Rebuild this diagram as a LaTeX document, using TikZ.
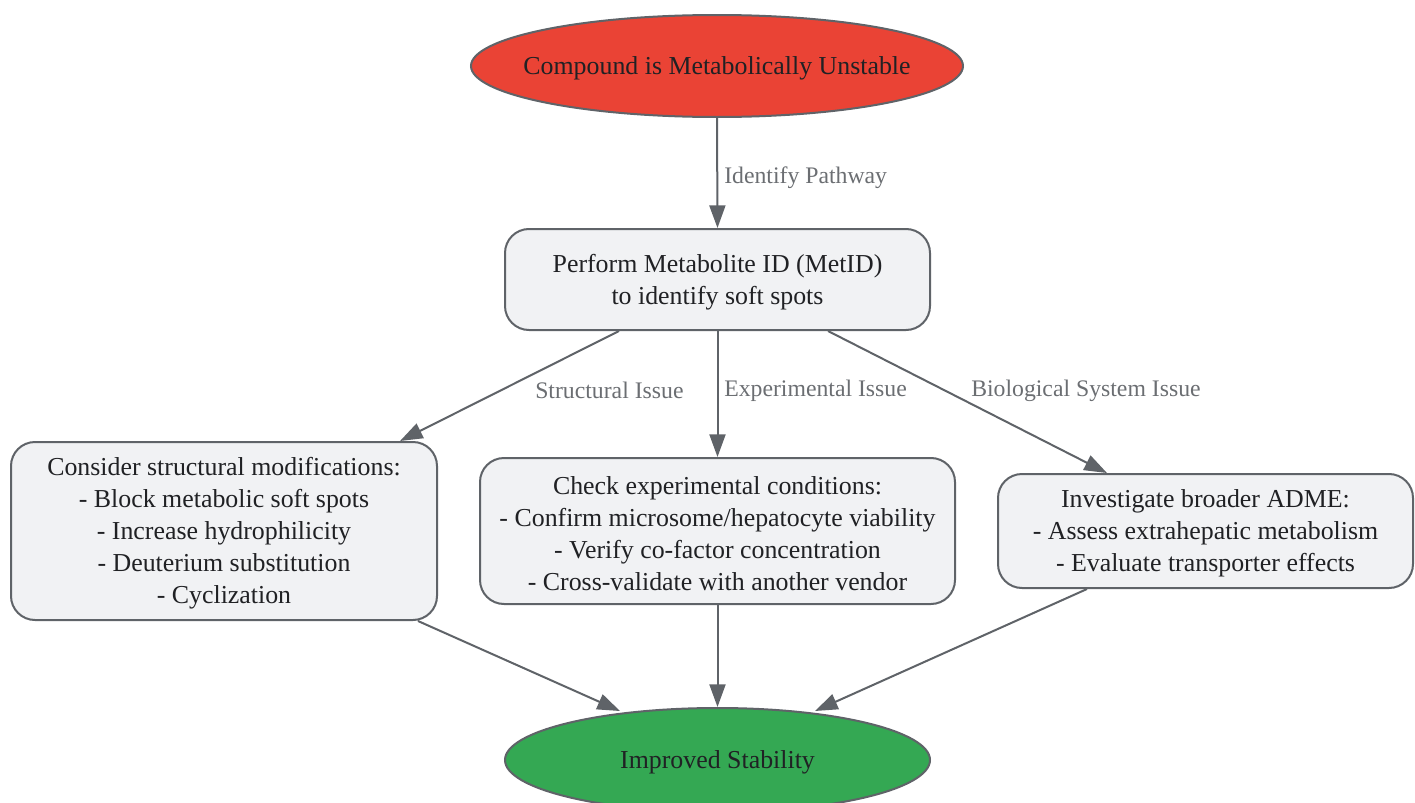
\documentclass[tikz,border=0pt]{standalone}
\usepackage{fontspec}
\setmainfont{Liberation Serif}
\usetikzlibrary{shapes.geometric,arrows.meta,calc}
\definecolor{redfill}{HTML}{EA4335}
\definecolor{greenfill}{HTML}{34A853}
\definecolor{boxfill}{HTML}{F1F2F4}
\definecolor{strokegray}{HTML}{5F6368}
\definecolor{textdark}{HTML}{202124}
\definecolor{labelgray}{HTML}{6B6E72}
\newcommand\firstup{\rule{0pt}{17.5pt}}
\tikzset{
  base/.style={draw=strokegray, line width=1.5pt, text=textdark, font=\fontsize{19.4}{24}\selectfont, align=center, inner sep=0pt},
  stepbox/.style={base, fill=boxfill, rounded corners=18pt},
  oval/.style={base, ellipse},
  conn/.style={draw=strokegray, line width=1.5pt, -{Triangle[length=17pt,width=12pt]}},
  lbl/.style={text=labelgray, font=\fontsize{17.8}{22}\selectfont, inner sep=0pt}
}
\begin{document}
\begin{tikzpicture}[x=0.75pt,y=-0.75pt]
\useasboundingbox (0,0) rectangle (1415,803);
\node[oval, fill=redfill, minimum width=369pt, minimum height=76.5pt] (start) at (717,66) {\makebox[0pt][c]{\firstup Compound is Metabolically Unstable}};
\node[stepbox, minimum width=318.75pt, minimum height=75.75pt] (metid) at (717.5,279.5) {\firstup Perform Metabolite ID (MetID)\\to identify soft spots};
\node[stepbox, minimum width=319.5pt, minimum height=133.5pt] (struct) at (224,531) {\firstup Consider structural modifications:\\- Block metabolic soft spots\\- Increase hydrophilicity\\- Deuterium substitution\\- Cyclization};
\node[stepbox, minimum width=356.25pt, minimum height=109.5pt] (exper) at (717.5,531) {\firstup Check experimental conditions:\\- Confirm microsome/hepatocyte viability\\- Verify co-factor concentration\\- Cross-validate with another vendor};
\node[stepbox, minimum width=311.25pt, minimum height=85.5pt] (bio) at (1205.5,531) {\firstup Investigate broader ADME:\\- Assess extrahepatic metabolism\\- Evaluate transporter effects};
\node[oval, fill=greenfill, minimum width=318.75pt, minimum height=78pt] (done) at (717.5,760) {\makebox[0pt][c]{\firstup Improved Stability}};

\draw[conn] (start.south) -- (metid.north);
\draw[conn] ($(metid.south)+(-98.5,0)$) -- ($(struct.north)+(176,0)$);
\draw[conn] (metid.south) -- (exper.north);
\draw[conn] ($(metid.south)+(110.5,0)$) -- ($(bio.north)+(-98.5,0)$);
\draw[conn] ($(struct.south)+(194,0)$) -- ($(done.north)+(-97.5,4)$);
\draw[conn] (exper.south) -- (done.north);
\draw[conn] ($(bio.south)+(-118.5,0)$) -- ($(done.north)+(97.5,4)$);

\node[lbl, anchor=west] (l1) at (724,177.5) {Identify Pathway};
\node[lbl, anchor=west] (l2) at (535,390.5) {Structural Issue};
\node[lbl, anchor=west] (l3) at (724,390.5) {Experimental Issue};
\node[lbl, anchor=west] (l4) at (971,390.5) {Biological System Issue};
\end{tikzpicture}
\end{document}
